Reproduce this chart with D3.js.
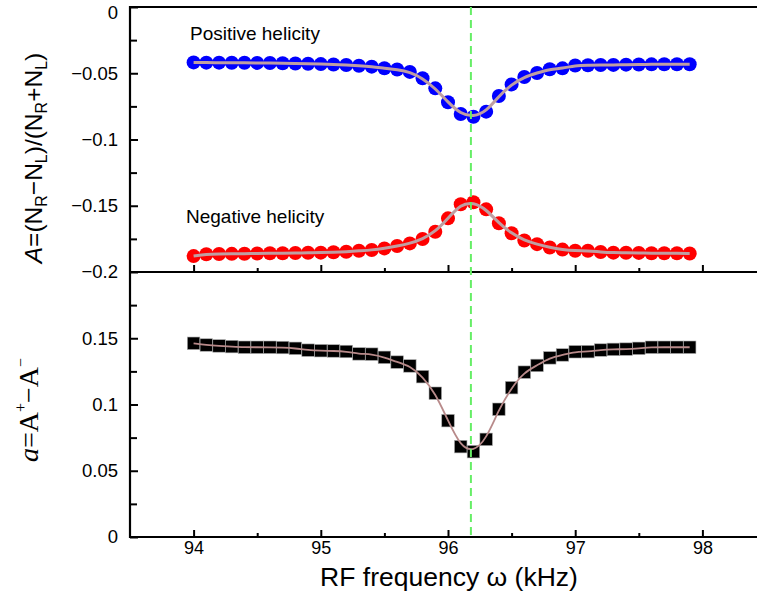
<!DOCTYPE html>
<html><head><meta charset="utf-8">
<script src="https://cdn.jsdelivr.net/npm/d3@7"></script>
<style>body{margin:0;background:#fff}svg{display:block}</style>
</head><body>
<script>
const freq = [94.0,94.1,94.2,94.3,94.4,94.5,94.6,94.7,94.8,94.9,95.0,95.1,95.2,95.3,95.4,95.5,95.6,95.7,95.8,95.9,96.0,96.1,96.2,96.3,96.4,96.5,96.6,96.7,96.8,96.9,97.0,97.1,97.2,97.3,97.4,97.5,97.6,97.7,97.8,97.9];
const positive = [-0.0418,-0.0420,-0.0420,-0.0421,-0.0421,-0.0422,-0.0423,-0.0424,-0.0426,-0.0428,-0.0431,-0.0434,-0.0438,-0.0443,-0.0450,-0.0462,-0.0472,-0.0490,-0.0538,-0.0614,-0.0719,-0.0808,-0.0828,-0.0790,-0.0672,-0.0584,-0.0528,-0.0498,-0.0470,-0.0463,-0.0442,-0.0440,-0.0438,-0.0437,-0.0435,-0.0434,-0.0433,-0.0432,-0.0432,-0.0432];
const negative = [-0.1880,-0.1866,-0.1864,-0.1863,-0.1862,-0.1860,-0.1859,-0.1858,-0.1857,-0.1855,-0.1854,-0.1851,-0.1847,-0.1840,-0.1834,-0.1822,-0.1804,-0.1784,-0.1751,-0.1696,-0.1595,-0.1489,-0.1474,-0.1527,-0.1632,-0.1708,-0.1762,-0.1790,-0.1815,-0.1831,-0.1840,-0.1840,-0.1849,-0.1854,-0.1855,-0.1856,-0.1859,-0.1859,-0.1859,-0.1860];
const difference = [0.1462,0.1449,0.1442,0.1437,0.1432,0.1432,0.1432,0.1430,0.1424,0.1410,0.1406,0.1404,0.1400,0.1382,0.1380,0.1356,0.1320,0.1291,0.1210,0.1085,0.0878,0.0682,0.0644,0.0737,0.0964,0.1127,0.1244,0.1295,0.1352,0.1374,0.1398,0.1399,0.1411,0.1416,0.1418,0.1424,0.1432,0.1432,0.1432,0.1432];
const resonance = 96.18;
const xTicks = [94,95,96,97,98];
const xMinor = [94.5,95.5,96.5,97.5];
const upperTicks = [0,-0.05,-0.1,-0.15,-0.2];
const upperMinor = [-0.025,-0.075,-0.125,-0.175];
const lowerTicks = [0,0.05,0.1,0.15];
const lowerMinor = [0.025,0.075,0.125,0.175];

const W = 757, H = 600;
const L = 130, R = 766, T = 7, M = 272, B = 537;
const svg = d3.select("body").append("svg").attr("width", W).attr("height", H)
  .style("font-family", "'Liberation Sans', Arial, sans-serif");

const x = d3.scaleLinear().domain([93.5, 98.5]).range([L, R]);
const yU = d3.scaleLinear().domain([-0.2, 0]).range([M, T]);
const yL = d3.scaleLinear().domain([0, 0.2]).range([B, M]);

const fmt = d => d === 0 ? "0" : d3.format("")(d);

const axisG = svg.append("g");
function axisLine(x1,y1,x2,y2){ axisG.append("line").attr("x1",x1).attr("y1",y1).attr("x2",x2).attr("y2",y2).attr("stroke","#000").attr("stroke-width",2.2); }

[M, B].forEach((yy, i) => {
  const g = svg.append("g").attr("transform", `translate(0,${yy})`)
    .call(d3.axisBottom(x).tickValues(xTicks).tickSize(-7).tickFormat(i === 1 ? d3.format("d") : ""));
  g.select(".domain").remove();
  g.selectAll(".tick line").attr("stroke-width", 2);
  g.selectAll(".tick text").attr("font-size", 18).attr("dy", "0.2em").attr("y", 13).attr("fill","#000")
    .style("font-family", "'Liberation Sans', Arial, sans-serif");
  const gm = svg.append("g").attr("transform", `translate(0,${yy})`)
    .call(d3.axisBottom(x).tickValues(xMinor).tickSize(-4).tickFormat(""));
  gm.select(".domain").remove();
  gm.selectAll(".tick line").attr("stroke-width", 2);
});

function yAxis(scale, major, minor){
  const g = svg.append("g").attr("transform", `translate(${L},0)`)
    .call(d3.axisLeft(scale).tickValues(major).tickSize(-8).tickPadding(12).tickFormat(fmt));
  g.select(".domain").remove();
  g.selectAll(".tick line").attr("stroke-width", 2);
  g.selectAll(".tick text").attr("font-size", 18.5).attr("fill","#000")
    .style("font-family", "'Liberation Sans', Arial, sans-serif");
  const gm = svg.append("g").attr("transform", `translate(${L},0)`)
    .call(d3.axisLeft(scale).tickValues(minor).tickSize(-7).tickFormat(""));
  gm.select(".domain").remove();
  gm.selectAll(".tick line").attr("stroke-width", 2);
  return g;
}
const gU = yAxis(yU, upperTicks, upperMinor);
gU.selectAll(".tick text").filter(d => d === 0).attr("dy", "0.62em");
yAxis(yL, lowerTicks, lowerMinor);

axisLine(L, T, R, T);
axisLine(L, M, R, M);
axisLine(L, B, R, B);
axisLine(L, T-1, L, B+1);

const fitLine = (ys, scale) => d3.line().curve(d3.curveBasis).x((d,i)=>x(freq[i])).y(d=>scale(d))(ys);

const plot = svg.append("g");
plot.selectAll(".pos").data(positive).join("circle").attr("class","pos")
  .attr("cx",(d,i)=>x(freq[i])).attr("cy",d=>yU(d)).attr("r",7).attr("fill","#0000ff");
plot.selectAll(".neg").data(negative).join("circle").attr("class","neg")
  .attr("cx",(d,i)=>x(freq[i])).attr("cy",d=>yU(d)).attr("r",7).attr("fill","#ff0000");
plot.append("path").attr("d", fitLine(positive, yU)).attr("fill","none").attr("stroke","#bf9ea2").attr("stroke-width",3);
plot.append("path").attr("d", fitLine(negative, yU)).attr("fill","none").attr("stroke","#bf9ea2").attr("stroke-width",3);

const s = 12.5;
plot.selectAll(".diff").data(difference).join("rect").attr("class","diff")
  .attr("x",(d,i)=>x(freq[i])-s/2).attr("y",d=>yL(d)-s/2).attr("width",s).attr("height",s)
  .attr("fill","#000").attr("stroke","#aaa").attr("stroke-width",0.6);
plot.append("path").attr("d", fitLine(difference, yL)).attr("fill","none").attr("stroke","#b88a8a").attr("stroke-width",1.8);

svg.append("line").attr("x1",x(resonance)).attr("x2",x(resonance)).attr("y1",T).attr("y2",B)
  .attr("stroke","#66ee66").attr("stroke-width",2).attr("stroke-dasharray","8,5");

svg.append("text").attr("x",190).attr("y",40).attr("font-size",19).text("Positive helicity");
svg.append("text").attr("x",186).attr("y",223).attr("font-size",19).text("Negative helicity");

svg.append("text").attr("x",449).attr("y",586).attr("text-anchor","middle").attr("font-size",26.5)
  .text("RF frequency ω (kHz)");

const t1 = svg.append("text").attr("transform","translate(42,158) rotate(-90)").attr("text-anchor","middle").attr("font-size",24.5);
t1.append("tspan").attr("font-style","italic").text("A");
t1.append("tspan").text("=(N");
t1.append("tspan").attr("font-size",16).attr("dy",5).text("R");
t1.append("tspan").attr("dy",-5).text("−N");
t1.append("tspan").attr("font-size",16).attr("dy",5).text("L");
t1.append("tspan").attr("dy",-5).text(")/(N");
t1.append("tspan").attr("font-size",16).attr("dy",5).text("R");
t1.append("tspan").attr("dy",-5).text("+N");
t1.append("tspan").attr("font-size",16).attr("dy",5).text("L");
t1.append("tspan").attr("dy",-5).text(")");

const t2 = svg.append("text").attr("transform","translate(38,410) rotate(-90)").attr("text-anchor","middle")
  .attr("font-size",28).style("font-family","'Liberation Serif','Times New Roman',serif");
t2.append("tspan").attr("font-style","italic").text("a");
t2.append("tspan").text("=A");
t2.append("tspan").attr("font-size",16).attr("dy",-12).text("+");
t2.append("tspan").attr("dy",12).text("−A");
t2.append("tspan").attr("font-size",16).attr("dy",-12).text("−");
</script>
</body></html>
